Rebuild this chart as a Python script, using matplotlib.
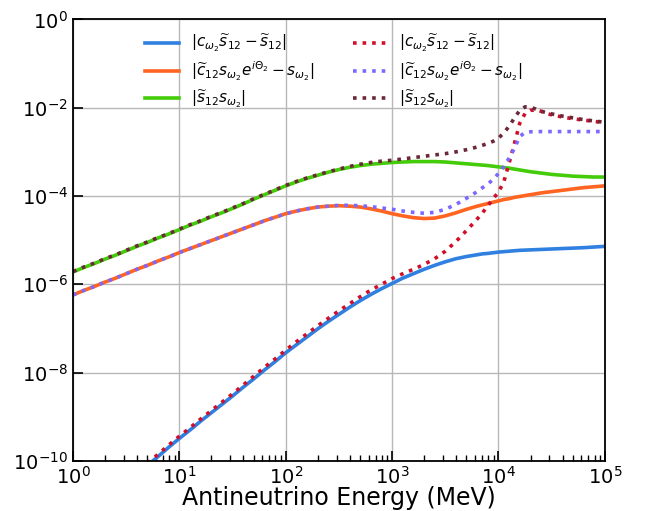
import numpy as np
import matplotlib
matplotlib.use("Agg")
import matplotlib.pyplot as plt
from matplotlib.ticker import NullLocator

# log10(E / MeV) sample points
logE = [0.0, 0.1, 0.2, 0.3, 0.4, 0.5, 0.6, 0.7, 0.8, 0.9,
        1.0, 1.1, 1.2, 1.3, 1.4, 1.5, 1.6, 1.7, 1.8, 1.9,
        2.0, 2.1, 2.2, 2.3, 2.4, 2.5, 2.6, 2.7, 2.8, 2.9,
        3.0, 3.1, 3.2, 3.3, 3.4, 3.5, 3.6, 3.7, 3.8, 3.85,
        3.9, 3.95, 4.0, 4.05, 4.1, 4.15, 4.2, 4.25, 4.3, 4.35,
        4.4, 4.45, 4.5, 4.6, 4.7, 4.8, 4.9, 5.0]

# log10 of the plotted quantities
blue_solid = [-11.5, -11.3, -11.1, -10.9, -10.7, -10.5, -10.3, -10.1, -9.9, -9.69,
              -9.49, -9.30, -9.10, -8.91, -8.72, -8.53, -8.33, -8.14, -7.94, -7.75,
              -7.55, -7.37, -7.19, -7.01, -6.84, -6.68, -6.52, -6.37, -6.23, -6.10,
              -5.98, -5.86, -5.76, -5.66, -5.57, -5.49, -5.42, -5.37, -5.33, -5.31,
              -5.30, -5.285, -5.27, -5.26, -5.25, -5.24, -5.23, -5.225, -5.22, -5.215,
              -5.21, -5.205, -5.20, -5.19, -5.18, -5.17, -5.155, -5.14]
orange_solid = [-6.24, -6.14, -6.05, -5.95, -5.86, -5.76, -5.66, -5.57, -5.47, -5.38,
                -5.28, -5.19, -5.10, -5.01, -4.92, -4.83, -4.74, -4.65, -4.56, -4.48,
                -4.40, -4.34, -4.29, -4.25, -4.23, -4.22, -4.23, -4.25, -4.29, -4.34,
                -4.40, -4.45, -4.49, -4.51, -4.50, -4.45, -4.38, -4.30, -4.23, -4.20,
                -4.17, -4.14, -4.11, -4.08, -4.06, -4.03, -4.01, -3.99, -3.97, -3.95,
                -3.93, -3.915, -3.90, -3.87, -3.84, -3.81, -3.79, -3.77]
green_solid = [-5.72, -5.62, -5.53, -5.43, -5.34, -5.24, -5.14, -5.05, -4.95, -4.86,
               -4.76, -4.66, -4.57, -4.47, -4.38, -4.28, -4.18, -4.07, -3.97, -3.87,
               -3.77, -3.68, -3.60, -3.53, -3.46, -3.40, -3.35, -3.31, -3.28, -3.26,
               -3.24, -3.23, -3.22, -3.22, -3.22, -3.23, -3.25, -3.27, -3.29, -3.30,
               -3.31, -3.325, -3.34, -3.355, -3.37, -3.39, -3.41, -3.43, -3.45, -3.465,
               -3.48, -3.495, -3.51, -3.53, -3.55, -3.56, -3.57, -3.57]
red_dotted = [-11.45, -11.25, -11.05, -10.85, -10.65, -10.45, -10.25, -10.05, -9.85, -9.64,
              -9.44, -9.25, -9.05, -8.86, -8.67, -8.48, -8.28, -8.08, -7.88, -7.69,
              -7.49, -7.30, -7.12, -6.94, -6.77, -6.60, -6.44, -6.28, -6.13, -6.00,
              -5.87, -5.76, -5.66, -5.55, -5.42, -5.25, -5.03, -4.78, -4.52, -4.38,
              -4.22, -4.06, -3.91, -3.68, -3.25, -2.81, -2.35, -2.13, -2.06, -2.05,
              -2.08, -2.13, -2.16, -2.21, -2.25, -2.28, -2.31, -2.34]
purple_dotted = [-6.24, -6.14, -6.05, -5.95, -5.86, -5.76, -5.66, -5.57, -5.47, -5.38,
                 -5.28, -5.19, -5.10, -5.01, -4.92, -4.83, -4.74, -4.65, -4.56, -4.48,
                 -4.40, -4.34, -4.29, -4.25, -4.23, -4.21, -4.21, -4.22, -4.24, -4.27,
                 -4.30, -4.34, -4.37, -4.39, -4.37, -4.30, -4.19, -4.05, -3.90, -3.81,
                 -3.73, -3.62, -3.49, -3.33, -3.14, -2.92, -2.65, -2.56, -2.545, -2.54,
                 -2.54, -2.54, -2.54, -2.54, -2.54, -2.54, -2.54, -2.54]
brown_dotted = [-5.71, -5.61, -5.52, -5.42, -5.33, -5.23, -5.13, -5.04, -4.94, -4.85,
                -4.75, -4.65, -4.56, -4.46, -4.37, -4.27, -4.17, -4.06, -3.96, -3.86,
                -3.76, -3.67, -3.59, -3.52, -3.45, -3.39, -3.33, -3.28, -3.24, -3.21,
                -3.19, -3.16, -3.13, -3.10, -3.07, -3.04, -3.00, -2.95, -2.89, -2.85,
                -2.81, -2.76, -2.69, -2.57, -2.42, -2.23, -2.06, -1.98, -1.99, -2.03,
                -2.08, -2.11, -2.14, -2.19, -2.23, -2.27, -2.30, -2.33]

labels = [r'$|c_{\omega_2}\widetilde{s}_{12} - \widetilde{s}_{12}|$',
          r'$|\widetilde{c}_{12} s_{\omega_2} e^{i\Theta_2} - s_{\omega_2}|$',
          r'$|\widetilde{s}_{12} s_{\omega_2}|$']
yticks = [1e-10, 1e-8, 1e-6, 1e-4, 1e-2, 1]

E = 10.0 ** np.array(logE)
fig = plt.figure(figsize=(6.49, 5.11), dpi=100)
ax = fig.add_axes([0.1125, 0.098, 0.8195, 0.864])

solid = [(blue_solid, '#2f80e0'), (orange_solid, '#ff6420'), (green_solid, '#44cc0a')]
dotted = [(red_dotted, '#d0102a'), (purple_dotted, '#7b68ff'), (brown_dotted, '#6b2838')]
for (vals, c), lab in zip(solid, labels):
    ax.plot(E, 10.0 ** np.array(vals), color=c, lw=2.6, label=lab)
for (vals, c), lab in zip(dotted, labels):
    ax.plot(E, 10.0 ** np.array(vals), color=c, lw=2.6, ls=':', label=lab)

ax.set_xscale('log')
ax.set_yscale('log')
ax.set_xlim(1, 1e5)
ax.set_ylim(1e-10, 1)
ax.set_yticks(yticks)
ax.yaxis.set_minor_locator(NullLocator())
ax.grid(True, which='major', color='#b8b8b8', lw=1)
ax.tick_params(which='both', direction='in', labelsize=14)
ax.tick_params(which='major', length=7, width=1.2)
ax.tick_params(which='minor', length=4, width=1)
for s in ax.spines.values():
    s.set_linewidth(1.3)
ax.set_xlabel('Antineutrino Energy (MeV)', fontsize=17)
ax.xaxis.set_label_coords(0.5, -0.056)
ax.legend(ncol=2, frameon=False, fontsize=11, loc='upper center',
          bbox_to_anchor=(0.49, 1.0), columnspacing=2.5, handlelength=2.2,
          labelspacing=0.35)
fig.savefig('out.png', dpi=100)
